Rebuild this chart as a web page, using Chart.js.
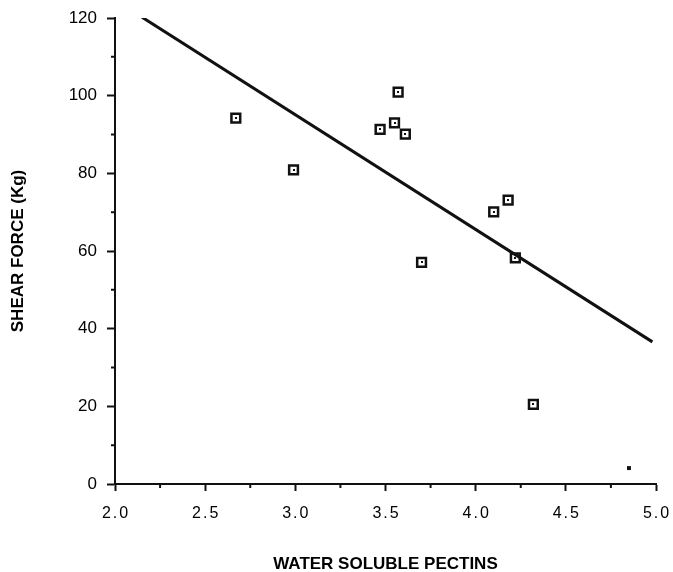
<!DOCTYPE html>
<html><head><meta charset="utf-8">
<script src="https://cdn.jsdelivr.net/npm/chart.js@4/dist/chart.umd.min.js"></script>
<style>html,body{margin:0;padding:0;background:#fff}#wrap{width:673px;height:572px}</style>
</head><body><div id="wrap"><canvas id="c" width="673" height="572"></canvas></div>
<script>
// ---- data ----
const pectins    = [2.67, 2.99, 3.47, 3.55, 3.57, 3.61, 3.70, 4.10, 4.18, 4.22, 4.32];
const shearForce = [94.2, 80.9, 91.3, 93.0, 100.9, 90.1, 57.1, 70.1, 73.1, 58.2, 20.5];
const strayMarkX = [4.85];
const strayMarkY = [4.1];
const fitLineX   = [2.15, 4.98];
const fitLineY   = [120.2, 36.6];
const xTickValues = [2.0, 2.5, 3.0, 3.5, 4.0, 4.5, 5.0];
const xMinorTicks = [2.25, 2.75, 3.25, 3.75, 4.25, 4.75];
const yTickValues = [0, 20, 40, 60, 80, 100, 120];
const yMinorTicks = [10, 30, 50, 70, 90, 110];
const xTitle = 'WATER SOLUBLE PECTINS';
const yTitle = 'SHEAR FORCE (Kg)';

const INK = '#111';
const FONT = "'Liberation Sans', Arial, Helvetica, sans-serif";

const toPts = (xs, ys) => xs.map((x, i) => ({x: x, y: ys[i]}));

const extras = {
  id: 'extras',
  afterLayout(chart) {
    const s = chart.scales.x;
    if (s && !s.__spaced) {
      const orig = s.drawLabels.bind(s);
      s.drawLabels = function (ca) {
        const ctx = chart.ctx;
        ctx.save();
        ctx.letterSpacing = '2px';
        ctx.translate(1, 0);
        orig(ca);
        ctx.restore();
      };
      s.__spaced = true;
    }
  },
  afterDatasetsDraw(chart) {
    const ctx = chart.ctx;
    const meta = chart.getDatasetMeta(1);
    ctx.save();
    ctx.fillStyle = INK;
    meta.data.forEach(p => { ctx.fillRect(Math.round(p.x) - 1, Math.round(p.y) - 1, 2, 2); });
    ctx.restore();
  },
  afterDraw(chart) {
    const ctx = chart.ctx;
    const xs = chart.scales.x, ys = chart.scales.y;
    ctx.save();
    ctx.strokeStyle = INK;
    ctx.lineWidth = 2;
    ctx.beginPath();
    xMinorTicks.forEach(v => {
      const px = xs.getPixelForValue(v);
      ctx.moveTo(px, xs.top); ctx.lineTo(px, xs.top + 4);
    });
    yMinorTicks.forEach(v => {
      const py = ys.getPixelForValue(v);
      ctx.moveTo(ys.right, py); ctx.lineTo(ys.right - 4, py);
    });
    ctx.stroke();
    ctx.restore();
  }
};

new Chart(document.getElementById('c'), {
  type: 'scatter',
  data: {
    datasets: [
      {
        type: 'line',
        data: toPts(fitLineX, fitLineY),
        showLine: true,
        borderColor: INK,
        borderWidth: 3,
        pointRadius: 0,
        fill: false
      },
      {
        data: toPts(pectins, shearForce),
        pointStyle: 'rect',
        pointRadius: 6.2,
        pointBorderWidth: 2.5,
        borderColor: INK,
        backgroundColor: '#fff'
      },
      {
        data: toPts(strayMarkX, strayMarkY),
        pointStyle: 'rect',
        pointRadius: 2.8,
        pointBorderWidth: 0,
        borderColor: INK,
        backgroundColor: INK
      }
    ]
  },
  options: {
    responsive: false,
    devicePixelRatio: 1,
    animation: false,
    events: [],
    layout: {padding: {top: 18, right: 17, left: 0, bottom: 0}},
    plugins: {legend: {display: false}, tooltip: {enabled: false}},
    scales: {
      x: {
        type: 'linear', min: 2, max: 5,
        afterBuildTicks: s => { s.ticks = xTickValues.map(v => ({value: v})); },
        afterFit: s => { s.height = 88; s.paddingLeft = 0; s.paddingRight = 0; },
        border: {display: true, color: INK, width: 2},
        grid: {drawOnChartArea: false, drawTicks: true, tickLength: 7, tickWidth: 2, tickColor: INK},
        ticks: {
          color: '#000', padding: 13, maxRotation: 0,
          font: {family: FONT, size: 16},
          callback: v => Number(v).toFixed(1)
        },
        title: {
          display: true, text: xTitle, color: '#000',
          font: {family: FONT, size: 17, weight: 'bold', lineHeight: 1},
          padding: {top: 0, bottom: -1}
        }
      },
      y: {
        type: 'linear', min: 0, max: 120,
        afterBuildTicks: s => { s.ticks = yTickValues.map(v => ({value: v})); },
        afterFit: s => { s.width = 115; s.paddingTop = 0; s.paddingBottom = 0; },
        border: {display: true, color: INK, width: 2},
        grid: {drawOnChartArea: false, drawTicks: true, tickLength: 8, tickWidth: 2, tickColor: INK},
        ticks: {
          color: '#000', padding: 10,
          font: {family: FONT, size: 17},
          callback: v => String(v)
        },
        title: {
          display: true, text: yTitle, color: '#000',
          font: {family: FONT, size: 17, weight: 'bold', lineHeight: 1},
          padding: {top: 10, bottom: 0}
        }
      }
    }
  },
  plugins: [extras]
});
</script>
</body></html>
